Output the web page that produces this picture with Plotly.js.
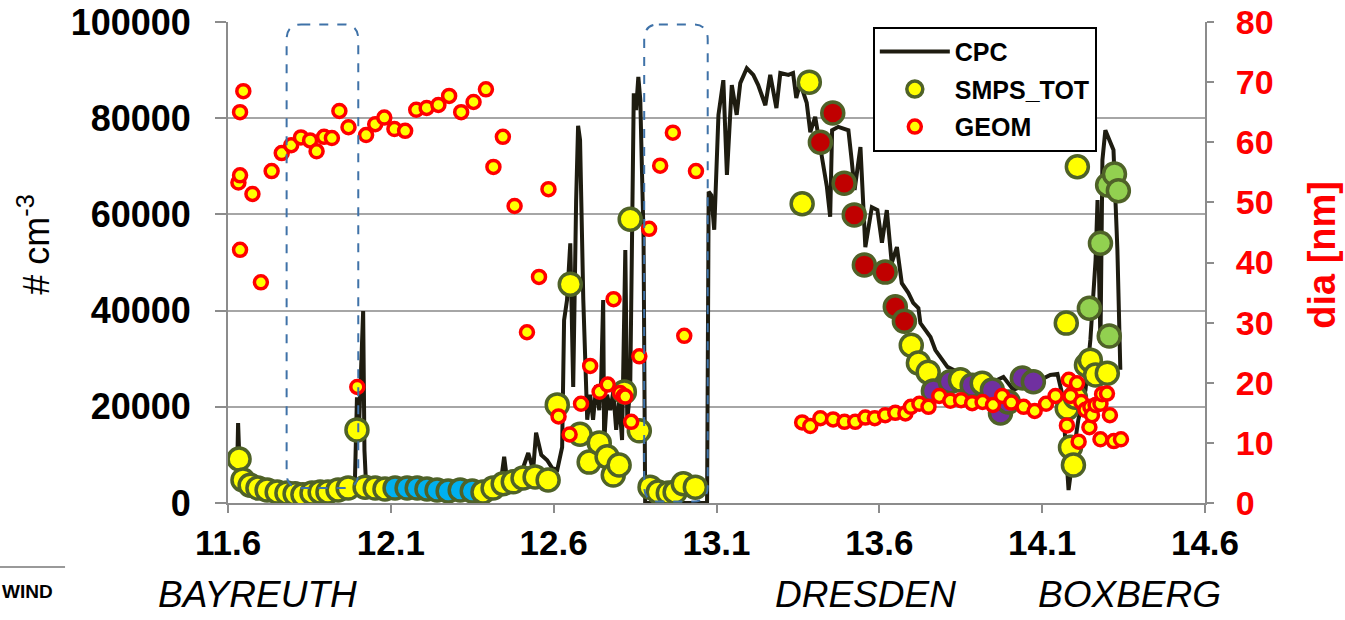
<!DOCTYPE html>
<html><head><meta charset="utf-8">
<script src="https://cdn.plot.ly/plotly-3.0.1.min.js"></script>
<style>html,body{margin:0;padding:0;background:#fff}</style>
</head><body><div id="chart" style="width:1345px;height:620px"></div>
<script>
// ---------- DATA ----------
const cpcX = [11.628,11.631,11.637,11.652,11.683,11.729,11.790,11.852,11.913,11.975,11.990,11.996,12.002,12.009,12.015,12.019,12.024,12.067,12.128,12.190,12.251,12.313,12.374,12.436,12.448,12.457,12.497,12.522,12.537,12.546,12.562,12.580,12.595,12.611,12.626,12.632,12.641,12.651,12.660,12.669,12.675,12.681,12.691,12.703,12.712,12.721,12.731,12.740,12.746,12.752,12.755,12.764,12.774,12.783,12.792,12.801,12.810,12.820,12.826,12.835,12.841,12.846,12.853,12.860,12.866,12.876,12.881,12.958,13.071,13.076,13.084,13.093,13.106,13.121,13.132,13.147,13.162,13.173,13.193,13.213,13.228,13.250,13.265,13.284,13.296,13.321,13.335,13.345,13.357,13.377,13.388,13.403,13.419,13.428,13.439,13.449,13.455,13.474,13.505,13.515,13.524,13.542,13.557,13.577,13.594,13.608,13.623,13.638,13.654,13.669,13.689,13.704,13.720,13.726,13.741,13.757,13.772,13.787,13.809,13.827,13.870,13.910,13.950,13.981,14.012,14.055,14.095,14.125,14.147,14.162,14.174,14.181,14.193,14.211,14.233,14.248,14.264,14.270,14.279,14.285,14.294,14.306,14.319,14.331,14.340];
const cpcY = [6900,16600,5200,3500,2900,2500,2100,2300,2500,2900,5400,22000,15200,29700,39900,11000,3700,2900,2700,2700,2500,2700,2900,3500,9600,4800,5600,10400,6900,14600,10000,8900,7300,6900,11600,38000,42200,54000,24100,63000,78400,75500,42200,17300,22500,17300,24500,19300,25600,42200,12500,22500,19300,23100,15200,21400,13100,52600,17300,23500,52600,85200,81700,88600,83800,55300,0,0,0,64700,64000,56800,80700,87900,68200,86900,80700,87300,90400,89000,86900,82700,89000,82100,89400,89000,89400,84200,87300,83200,77100,80300,73400,69900,65700,59500,77500,78200,77500,71300,65100,74000,53200,61500,60900,54100,60900,49900,53200,45700,43700,41600,40500,37400,36000,34500,31800,30400,28300,27700,26200,25600,25200,26200,23500,24900,25600,26600,26800,22500,8900,2700,8900,17300,23500,33900,50500,63000,33300,71300,77500,75500,73400,52600,27700];

const smpsX = [11.634,11.646,11.668,11.692,11.720,11.751,11.781,11.806,11.830,11.858,11.883,11.907,11.938,11.969,11.996,12.021,12.052,12.082,12.113,12.150,12.181,12.211,12.242,12.276,12.313,12.350,12.383,12.414,12.445,12.476,12.506,12.543,12.583,12.611,12.651,12.681,12.709,12.740,12.764,12.783,12.801,12.817,12.835,12.863,12.896,12.921,12.952,12.973,12.998,13.035,13.363,13.385,13.419,13.457,13.492,13.523,13.554,13.618,13.649,13.677,13.698,13.720,13.750,13.766,13.818,13.849,13.885,13.916,13.947,13.972,13.996,14.039,14.073,14.174,14.177,14.187,14.196,14.202,14.208,14.236,14.248,14.264,14.300,14.245,14.279,14.301,14.322,14.334,14.306];
const smpsY = [9150,4800,3700,3100,2700,2300,2100,1900,1700,2100,2300,2300,2700,3100,15200,3300,3100,2900,3100,3100,3100,2900,2700,2500,2700,2500,2300,3100,4000,4400,5200,5400,4800,20400,45500,14300,8500,12500,9600,5800,7900,23100,59000,15000,3300,2300,2100,2300,4000,3300,62200,87500,75000,81100,66500,59900,49500,48000,40800,37800,32800,29100,27200,23300,25200,25600,24500,24900,23500,18700,21000,26000,25200,37400,19700,11600,7900,22000,69900,28700,29700,26600,27000,40500,54000,66100,68400,64900,34700];
// colour class of each SMPS point: Y yellow, B blue, R red, P purple, G green
const smpsClass = ['Y','Y','Y','Y','Y','Y','Y','Y','Y','Y','Y','Y','Y','Y','Y','Y','Y','Y','B','B','B','B','B','B','B','B','Y','Y','Y','Y','Y','Y','Y','Y','Y','Y','Y','Y','Y','Y','Y','Y','Y','Y','Y','Y','Y','Y','Y','Y','Y','Y','R','R','R','R','R','R','R','R','Y','Y','Y','P','P','Y','P','Y','P','P','P','P','P','Y','Y','Y','Y','Y','Y','Y','Y','Y','Y','G','G','G','G','G','G'];

const geomX = [11.632,11.637,11.637,11.647,11.637,11.675,11.701,11.734,11.765,11.794,11.824,11.852,11.872,11.895,11.919,11.942,11.970,11.997,12.024,12.052,12.080,12.111,12.144,12.178,12.210,12.246,12.279,12.316,12.354,12.392,12.415,12.444,12.480,12.518,12.555,12.584,12.615,12.649,12.684,12.712,12.741,12.766,12.784,12.804,12.815,12.820,12.838,12.863,12.893,12.927,12.966,13.001,13.037,13.363,13.388,13.419,13.458,13.493,13.526,13.557,13.586,13.618,13.649,13.680,13.697,13.723,13.751,13.784,13.818,13.851,13.885,13.917,13.949,13.977,14.005,14.043,14.077,14.112,14.141,14.176,14.182,14.187,14.207,14.212,14.220,14.233,14.245,14.248,14.253,14.264,14.279,14.279,14.284,14.299,14.308,14.320,14.342];
const geomY = [53.3,54.5,65.0,68.5,42.1,51.4,36.7,55.2,58.2,59.5,60.8,60.3,58.5,60.9,60.7,65.2,62.5,19.3,61.2,63.0,64.1,62.2,61.9,65.4,65.7,66.2,67.7,65.0,66.7,68.8,55.9,60.9,49.4,28.4,37.6,52.2,14.4,11.4,16.5,22.8,18.5,19.7,33.9,18.3,17.8,17.7,13.5,24.4,45.6,56.1,61.6,27.8,55.2,13.4,12.8,14.1,13.9,13.5,13.5,14.2,14.1,14.6,15.0,14.9,16.0,16.5,16.0,17.8,17.0,17.1,16.6,16.8,16.3,17.8,16.7,16.0,15.3,16.5,17.8,12.9,20.5,17.8,19.9,10.2,16.8,15.5,12.6,16.0,14.6,16.3,16.5,10.6,18.1,18.2,14.6,10.3,10.6];

const xTicks = [11.6,12.1,12.6,13.1,13.6,14.1,14.6];
const xTickText = ['11.6','12.1','12.6','13.1','13.6','14.1','14.6'];
const yTicks = [0,20000,40000,60000,80000,100000];
const yTickText = ['0','20000','40000','60000','80000','100000'];
const y2Ticks = [0,10,20,30,40,50,60,70,80];
const y2TickText = ['0','10','20','30','40','50','60','70','80'];
const places = ['BAYREUTH','DRESDEN','BOXBERG'];

// ---------- STYLE ----------
const FONT = 'Liberation Sans, Arial, sans-serif';
const classColor = {Y:'#ffff00', B:'#00b0f0', R:'#c00000', P:'#7030a0', G:'#92d050'};
const dashBlue = '#3f72a8';
const gridC = '#a6a6a6';

const traces = [
  {x: cpcX, y: cpcY, type:'scatter', mode:'lines', name:'CPC', legendgroup:'a',
   line:{color:'#1e1c10', width:4}},
  {x: smpsX, y: smpsY, type:'scatter', mode:'markers', name:'SMPS_TOT', legendgroup:'b',
   marker:{size:22, color: smpsClass.map(c=>classColor[c]), line:{color:'#4f6228', width:3.5}}},
  {x: geomX, y: geomY, type:'scatter', mode:'markers', name:'GEOM', yaxis:'y2', legendgroup:'c',
   marker:{size:13, color:'#ffff00', line:{color:'#ff0000', width:3.5}}}
];

function rounded(x0,x1,y0,y1,rx,ry){
  return `M${x0+rx},${y1} L${x1-rx},${y1} Q${x1},${y1} ${x1},${y1-ry} L${x1},${y0+ry} Q${x1},${y0} ${x1-rx},${y0} L${x0+rx},${y0} Q${x0},${y0} ${x0},${y0+ry} L${x0},${y1-ry} Q${x0},${y1} ${x0+rx},${y1} Z`;
}

const placeX = [0.0307, 0.653, 0.923];
const annotations = places.map((p,i)=>({text:p, xref:'paper', yref:'paper', x:placeX[i], y:-0.19,
  xanchor:'center', yanchor:'middle', showarrow:false,
  font:{family:FONT, size:37, color:'#000', style:'italic'}}));
annotations.push({text:'# cm<sup>-3</sup>', xref:'paper', yref:'paper', x:-0.198, y:0.536, textangle:-90,
  xanchor:'center', yanchor:'middle', showarrow:false, font:{family:FONT, size:36, color:'#000'}});
annotations.push({text:'<b>dia [nm]</b>', xref:'paper', yref:'paper', x:1.1195, y:0.5156, textangle:-90,
  xanchor:'center', yanchor:'middle', showarrow:false, font:{family:FONT, size:38, color:'#ff0000'}});
annotations.push({text:'<b>WIND</b>', xref:'paper', yref:'paper', x:-0.177, y:-0.185,
  xanchor:'right', yanchor:'middle', showarrow:false, font:{family:FONT, size:19, color:'#000'}});

const layout = {
  width:1345, height:620,
  margin:{l:228, r:140, t:22, b:117},
  paper_bgcolor:'#fff', plot_bgcolor:'#fff',
  font:{family:FONT, color:'#000'},
  showlegend:true,
  legend:{x:0.660, y:0.99, xanchor:'left', yanchor:'top', bgcolor:'#fff', bordercolor:'#000', borderwidth:2,
    font:{family:FONT, size:25, color:'#000', weight:'bold'}, traceorder:'grouped', tracegroupgap:2, itemwidth:70},
  xaxis:{range:[11.6,14.6], tickmode:'array', tickvals:xTicks, ticktext:xTickText, showgrid:false, zeroline:false,
    showline:true, linecolor:'#8c8c8c', linewidth:2, ticks:'outside', ticklen:8, tickcolor:'#8c8c8c', tickwidth:2,
    tickfont:{family:FONT, size:35, color:'#000', weight:'bold'}},
  yaxis:{range:[0,100000], tickmode:'array', tickvals:yTicks, ticktext:yTickText, showgrid:true, gridcolor:gridC, gridwidth:2,
    zeroline:false, showline:true, linecolor:'#8c8c8c', linewidth:2, ticks:'outside', ticklen:11, tickcolor:'#8c8c8c', tickwidth:2,
    ticklabelstandoff:17, tickfont:{family:FONT, size:36, color:'#000', weight:'bold'}},
  yaxis2:{range:[0,80], overlaying:'y', side:'right', tickmode:'array', tickvals:y2Ticks, ticktext:y2TickText, showgrid:false,
    zeroline:false, showline:true, linecolor:'#8c8c8c', linewidth:2, ticks:'outside', ticklen:7, tickcolor:'#8c8c8c', tickwidth:2,
    ticklabelstandoff:15, tickfont:{family:FONT, size:34, color:'#ff0000', weight:'bold'}},
  shapes:[
    {type:'path', xref:'x', yref:'y', path: rounded(11.780,12.000,3100,99500,0.045,3100), line:{color:dashBlue, width:2, dash:'dash'}},
    {type:'path', xref:'x', yref:'y', path: rounded(12.878,13.073,300,99500,0.045,3100), line:{color:dashBlue, width:2, dash:'dash'}},
    {type:'line', xref:'paper', yref:'paper', x0:-0.2334, x1:-0.1668, y0:-0.133, y1:-0.133, line:{color:'#999', width:2}}
  ],
  annotations: annotations
};

Plotly.newPlot('chart', traces, layout, {displayModeBar:false, staticPlot:true});
</script></body></html>
